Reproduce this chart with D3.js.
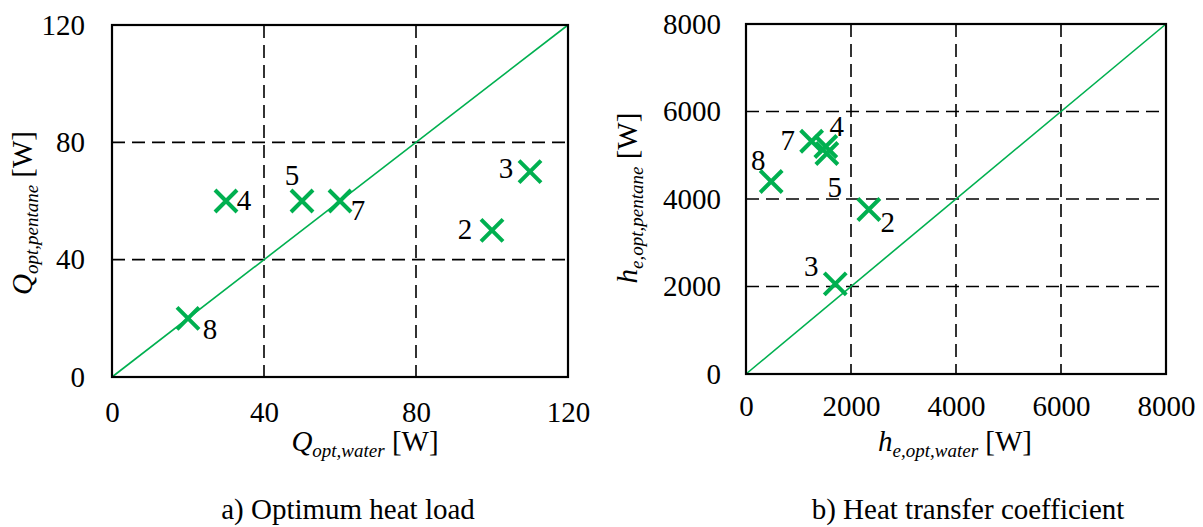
<!DOCTYPE html>
<html>
<head>
<meta charset="utf-8">
<script src="https://cdn.jsdelivr.net/npm/d3@7"></script>
<style>
  html, body { margin: 0; padding: 0; background: #fff; }
  svg { display: block; }
</style>
</head>
<body>
<svg id="chart" width="1203" height="527"></svg>
<script>
// ---- data ----
const caseLabels = ["2", "3", "4", "5", "7", "8"];
const qWater   = [100, 110, 30, 50, 60, 20];
const qPentane = [50, 70, 60, 60, 60, 20];
const hWater   = [2340, 1700, 1520, 1540, 1250, 480];
const hPentane = [3760, 2060, 5200, 5040, 5320, 4400];
const qTicks = [0, 40, 80, 120];
const hTicks = [0, 2000, 4000, 6000, 8000];
const captions = ["a) Optimum heat load", "b) Heat transfer coefficient"];

// ---- styling / layout (not data) ----
const GREEN = "#00b050";
const FONT = 29;
const SERIF = "Liberation Serif";
const qLabelOffsets = [[-27, 9], [-24, 6], [18, 9], [-10, -16], [18, 19], [22, 21]];
const hLabelOffsets = [[19, 22], [-24, -8], [11, -11], [8, 43], [-24, 9], [-13, -12]];

const svg = d3.select("#chart");

function panel(cfg) {
  const x = d3.scaleLinear().domain(cfg.domain).range([cfg.left, cfg.right]);
  const y = d3.scaleLinear().domain(cfg.domain).range([cfg.bottom, cfg.top]);
  const g = svg.append("g");

  const inner = cfg.ticks.slice(1, -1);
  g.selectAll(".vg").data(inner).enter().append("line")
    .attr("x1", d => x(d)).attr("x2", d => x(d))
    .attr("y1", cfg.top).attr("y2", cfg.bottom)
    .attr("stroke", "#000").attr("stroke-width", 1.6).attr("stroke-dasharray", "13,7");
  g.selectAll(".hg").data(inner).enter().append("line")
    .attr("y1", d => y(d)).attr("y2", d => y(d))
    .attr("x1", cfg.left).attr("x2", cfg.right)
    .attr("stroke", "#000").attr("stroke-width", 1.6).attr("stroke-dasharray", "13,7");

  g.append("line")
    .attr("x1", x(cfg.domain[0])).attr("y1", y(cfg.domain[0]))
    .attr("x2", x(cfg.domain[1])).attr("y2", y(cfg.domain[1]))
    .attr("stroke", GREEN).attr("stroke-width", 1.6);

  g.append("rect")
    .attr("x", cfg.left).attr("y", cfg.top)
    .attr("width", cfg.right - cfg.left).attr("height", cfg.bottom - cfg.top)
    .attr("fill", "none").attr("stroke", "#000").attr("stroke-width", 2.2);

  const xa = g.append("g").attr("transform", `translate(0,${cfg.bottom})`)
    .call(d3.axisBottom(x).tickValues(cfg.ticks).tickSize(0).tickPadding(cfg.xPad).tickFormat(d3.format("d")));
  const ya = g.append("g").attr("transform", `translate(${cfg.left},0)`)
    .call(d3.axisLeft(y).tickValues(cfg.ticks).tickSize(0).tickPadding(cfg.yPad).tickFormat(d3.format("d")));
  [xa, ya].forEach(a => {
    a.select(".domain").remove();
    a.attr("font-family", null).attr("font-size", null);
    a.selectAll("text").style("font-family", SERIF).style("font-size", FONT + "px").attr("fill", "#000");
  });

  const pts = cfg.xs.map((v, i) => ({ x: v, y: cfg.ys[i], label: caseLabels[i], off: cfg.offsets[i] }));
  const s = 11;
  const mk = g.selectAll(".mk").data(pts).enter().append("g")
    .attr("transform", d => `translate(${x(d.x)},${y(d.y)})`);
  mk.append("path")
    .attr("d", `M${-s},${-s}L${s},${s}M${-s},${s}L${s},${-s}`)
    .attr("stroke", GREEN).attr("stroke-width", 4).attr("fill", "none");
  mk.append("text")
    .attr("x", d => d.off[0]).attr("y", d => d.off[1])
    .attr("text-anchor", "middle")
    .style("font-family", SERIF).style("font-size", FONT + "px").attr("fill", "#000")
    .text(d => d.label);

  const xt = g.append("text").attr("x", cfg.xTitleX).attr("y", cfg.xTitleY)
    .attr("text-anchor", "middle")
    .style("font-family", SERIF).style("font-size", FONT + "px").attr("fill", "#000");
  xt.append("tspan").style("font-style", "italic").text(cfg.sym);
  xt.append("tspan").style("font-style", "italic").style("font-size", "19px").attr("dy", 6).text(cfg.subX);
  xt.append("tspan").attr("dy", -6).text(" [W]");

  const yt = g.append("text")
    .attr("transform", `translate(${cfg.yTitleX},${cfg.yTitleY}) rotate(-90)`)
    .attr("text-anchor", "middle")
    .style("font-family", SERIF).style("font-size", FONT + "px").attr("fill", "#000");
  yt.append("tspan").style("font-style", "italic").text(cfg.sym);
  yt.append("tspan").style("font-style", "italic").style("font-size", "19px").attr("dy", 6).text(cfg.subY);
  yt.append("tspan").attr("dy", -6).text(" [W]");

  g.append("text").attr("x", cfg.capX).attr("y", 519)
    .attr("text-anchor", "middle")
    .style("font-family", SERIF).style("font-size", FONT + "px").attr("fill", "#000")
    .text(cfg.caption);
}

panel({
  domain: [0, 120], ticks: qTicks, xs: qWater, ys: qPentane, offsets: qLabelOffsets,
  left: 112, right: 568, top: 25, bottom: 377, xPad: 24, yPad: 27,
  sym: "Q", subX: "opt,water", subY: "opt,pentane",
  xTitleX: 365, xTitleY: 451, yTitleX: 32, yTitleY: 213,
  caption: captions[0], capX: 348
});

panel({
  domain: [0, 8000], ticks: hTicks, xs: hWater, ys: hPentane, offsets: hLabelOffsets,
  left: 746, right: 1166, top: 24, bottom: 374, xPad: 21, yPad: 25,
  sym: "h", subX: "e,opt,water", subY: "e,opt,pentane",
  xTitleX: 955, xTitleY: 451, yTitleX: 637, yTitleY: 198,
  caption: captions[1], capX: 968
});
</script>
</body>
</html>
